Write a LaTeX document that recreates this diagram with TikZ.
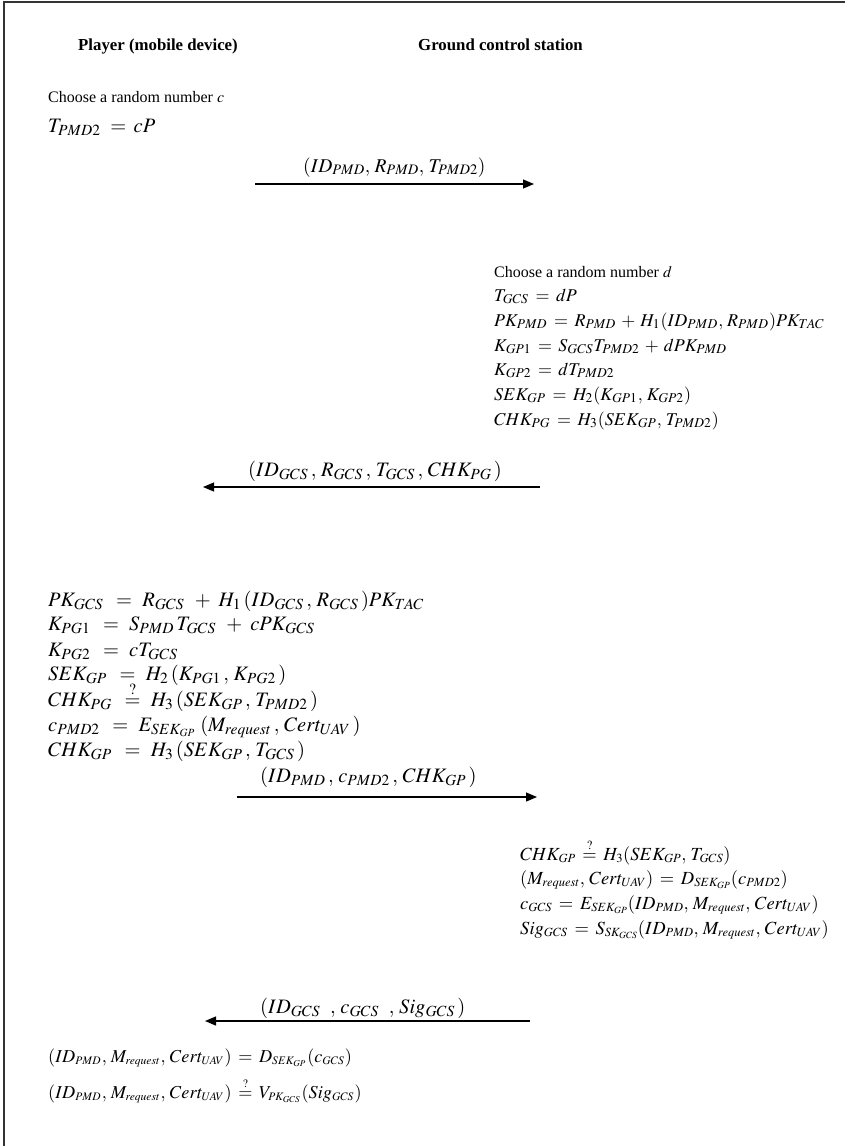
\documentclass[tikz,border=0pt]{standalone}
\usepackage{mathptmx}
\usepackage{fontspec}
\setmainfont{Liberation Serif}
\usetikzlibrary{arrows.meta}

% math sizes used by the formula blocks
\DeclareMathSizes{20.5}{20.5}{15.5}{11}
\DeclareMathSizes{19.5}{19.5}{14.5}{10.5}
\DeclareMathSizes{18}{18}{13.5}{10}
\DeclareMathSizes{18.5}{18.5}{12.5}{9.5}
\DeclareMathSizes{18.2}{18.2}{11.5}{9}
\thinmuskip=4mu\relax
\medmuskip=5mu plus 2mu minus 3mu\relax
\thickmuskip=6.5mu plus 4mu\relax

% spacing presets for the formula blocks
\newcommand\spacelbl{\scriptspace=3pt\relax}
\newcommand\spaceleft{\scriptspace=3pt\relax\medmuskip=7mu\relax\thickmuskip=9mu\relax}
\newcommand\spacethin{\scriptspace=1pt\relax}

\tikzset{
  base/.style={anchor=base west, inner sep=0pt},
  head/.style={base, font=\fontsize{16.8}{19}\selectfont\bfseries},
  note/.style={base, font=\fontsize{16}{19}\selectfont\rmfamily\mdseries},
  lbltight/.style={base, font=\fontsize{19.5}{23}\selectfont},
  lbl/.style={base, font=\fontsize{20.5}{24}\selectfont\spacelbl},
  fleft/.style={base, font=\fontsize{20.5}{24}\selectfont\spaceleft},
  fgcs/.style={base, font=\fontsize{18}{22}\selectfont\spacethin},
  fresp/.style={base, font=\fontsize{18.5}{22}\selectfont},
  fend/.style={base, font=\fontsize{18.2}{22}\selectfont\spacethin},
  msg/.style={line width=1.2pt, -{Triangle[length=11pt,width=9pt]}},
  frame/.style={line width=2pt, black!80}
}

\begin{document}
\begin{tikzpicture}[x=1pt,y=-1pt]
\useasboundingbox (0,0) rectangle (845,1146);

% page frame (left and top edges only)
\draw[frame] (4,1146) -- (4,2) -- (845,2);

% column headings
\node[head] (hp) at (78,50) {Player (mobile device)};
\node[head] (hg) at (418,50) {Ground control station};

% player: first step
\node[note] (p1) at (48,102) {Choose a random number $c$};
\node[lbl] (p2) at (48,132) {$T_{PMD2} = cP$};

% message 1
\node[lbltight] (m1) at (303,172) {$(ID_{PMD}{,}\,R_{PMD}{,}\,T_{PMD2})$};
\coordinate (m1s) at (255,184);
\coordinate (m1e) at (534,184);
\draw[msg] (m1s) -- (m1e);

% ground control station: key agreement
\node[note] (g1) at (494,277) {Choose a random number $d$};
\node[fgcs] (g2) at (494,301) {$T_{GCS} = dP$};
\node[fgcs] (g3) at (494,326) {$PK_{PMD} = R_{PMD} + H_1(ID_{PMD}, R_{PMD})PK_{TAC}$};
\node[fgcs] (g4) at (494,351) {$K_{GP1} = S_{GCS}T_{PMD2} + dPK_{PMD}$};
\node[fgcs] (g5) at (494,375) {$K_{GP2} = dT_{PMD2}$};
\node[fgcs] (g6) at (494,400) {$SEK_{GP} = H_2(K_{GP1}, K_{GP2})$};
\node[fgcs] (g7) at (494,425) {$CHK_{PG} = H_3(SEK_{GP}, T_{PMD2})$};

% message 2
\node[lbl] (m2) at (248,476) {$(ID_{GCS}, R_{GCS}, T_{GCS}, CHK_{PG})$};
\coordinate (m2s) at (540,487);
\coordinate (m2e) at (203,487);
\draw[msg] (m2s) -- (m2e);

% player: key agreement and request
\node[fleft] (q1) at (48,606) {$PK_{GCS} = R_{GCS} + H_1(ID_{GCS}, R_{GCS})PK_{TAC}$};
\node[fleft] (q2) at (48,630) {$K_{PG1} = S_{PMD}T_{GCS} + cPK_{GCS}$};
\node[fleft] (q3) at (48,656) {$K_{PG2} = cT_{GCS}$};
\node[fleft] (q4) at (48,680) {$SEK_{GP} = H_2(K_{PG1}, K_{PG2})$};
\node[fleft] (q5) at (48,706) {$CHK_{PG} \stackrel{?}{=} H_3(SEK_{GP}, T_{PMD2})$};
\node[fleft] (q6) at (48,731) {$c_{PMD2} = E_{SEK_{GP}}(M_{request}, Cert_{UAV})$};
\node[fleft] (q7) at (48,756) {$CHK_{GP} = H_3(SEK_{GP}, T_{GCS})$};

% message 3
\node[lbl] (m3) at (260,782) {$(ID_{PMD}{,}\,c_{PMD2}{,}\,CHK_{GP})$};
\coordinate (m3s) at (237,797);
\coordinate (m3e) at (537,797);
\draw[msg] (m3s) -- (m3e);

% ground control station: verification and response
\node[fresp] (r1) at (520,860) {$CHK_{GP} \stackrel{?}{=} H_3(SEK_{GP}, T_{GCS})$};
\node[fresp] (r2) at (520,884) {$(M_{request}, Cert_{UAV}) = D_{SEK_{GP}}(c_{PMD2})$};
\node[fresp] (r3) at (520,909) {$c_{GCS} = E_{SEK_{GP}}(ID_{PMD}, M_{request}, Cert_{UAV})$};
\node[fresp] (r4) at (520,934) {$Sig_{GCS} = S_{SK_{GCS}}(ID_{PMD}, M_{request}, Cert_{UAV})$};

% message 4
\node[lbl] (m4) at (260,1013) {$(ID_{GCS}\;, c_{GCS}\;, Sig_{GCS})$};
\coordinate (m4s) at (530,1021);
\coordinate (m4e) at (205,1021);
\draw[msg] (m4s) -- (m4e);

% player: final checks
\node[fend] (s1) at (48,1062) {$(ID_{PMD}, M_{request}, Cert_{UAV}) = D_{SEK_{GP}}(c_{GCS})$};
\node[fend] (s2) at (48,1098) {$(ID_{PMD}, M_{request}, Cert_{UAV}) \stackrel{?}{=} V_{PK_{GCS}}(Sig_{GCS})$};
\end{tikzpicture}
\end{document}
